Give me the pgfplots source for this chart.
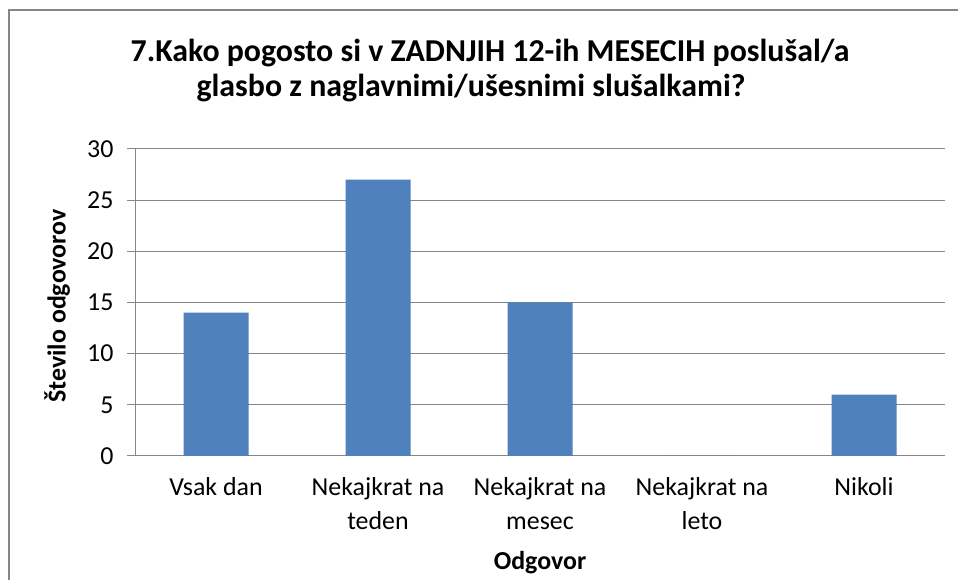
\documentclass[border=0pt]{standalone}
\usepackage{fontspec}
\setmainfont{Carlito}
\usepackage{pgfplots}
\pgfplotsset{compat=1.18}
\definecolor{barblue}{HTML}{4F81BD}
\definecolor{gridgray}{HTML}{868686}
\begin{document}
\begin{tikzpicture}[x=1bp,y=1bp]
\path[use as bounding box] (0,0) rectangle (958,580);
\begin{scope}
\clip (0,0) rectangle (958,580);
\fill[white] (0,0) rectangle (958,580);
\draw[gridgray, line width=2.2bp] (9,-20) rectangle (990,570);
\end{scope}
\node[font=\fontsize{32}{38}\selectfont\bfseries, anchor=base, inner sep=0pt] at (490,518) {7.Kako pogosto si v ZADNJIH 12-ih MESECIH poslušal/a};
\node[font=\fontsize{32}{38}\selectfont\bfseries, anchor=base, inner sep=0pt] at (471,483) {glasbo z naglavnimi/ušesnimi slušalkami?};
\begin{axis}[at={(135bp,124bp)}, anchor=south west, scale only axis,
  width=810bp, height=307bp,
  xmin=-0.5, xmax=4.5, ymin=0, ymax=30, ytick={0,5,...,30},
  xtick={0,1,2,3,4},
  xticklabels={Vsak dan, {Nekajkrat na\\teden}, {Nekajkrat na\\mesec}, {Nekajkrat na\\leto}, Nikoli},
  /pgf/number format/assume math mode=true,
  axis lines=left, axis line style={-, gridgray, line width=1bp},
  ymajorgrids, grid style={gridgray, line width=1bp},
  tick align=outside, major tick length=8bp,
  xtick style={draw=none}, ytick style={gridgray, line width=1bp},
  ticklabel style={font=\fontsize{26}{34}\selectfont},
  xticklabel style={align=center, anchor=north, yshift=-10bp},
  yticklabel style={anchor=east, xshift=-10bp},
  xlabel={Odgovor}, ylabel={Število odgovorov},
  label style={font=\fontsize{26}{32}\selectfont\bfseries},
  xlabel style={at={(axis description cs:0.5,-0.371)}, anchor=base},
  ylabel style={at={(axis description cs:-0.096,0.489)}, anchor=center, rotate=0},
  ybar, bar width=65bp,
]
\addplot[fill=barblue, draw=none] coordinates {(0,14) (1,27) (2,15) (3,0) (4,6)};
\end{axis}
\end{tikzpicture}
\end{document}
